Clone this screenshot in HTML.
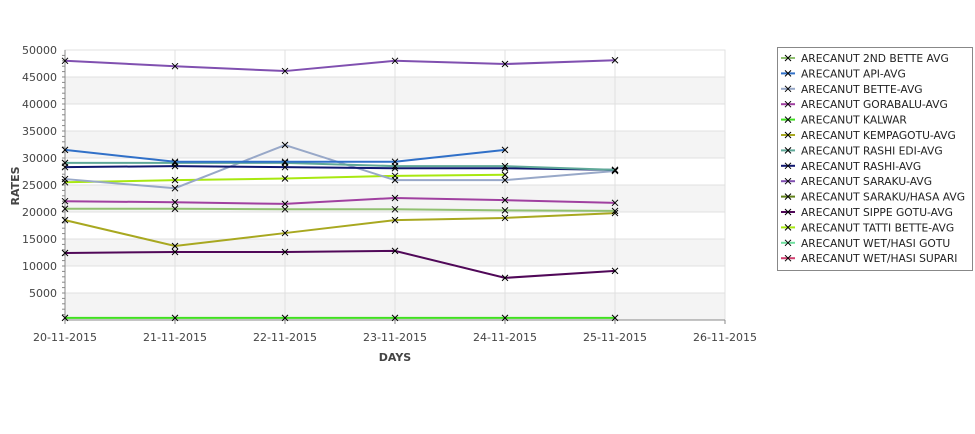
<!DOCTYPE html>
<html><head><meta charset="utf-8"><style>
body{margin:0;background:#fff;width:975px;height:429px;overflow:hidden;font-family:"Liberation Sans","DejaVu Sans",sans-serif}
svg text{font-family:"DejaVu Sans","Liberation Sans",sans-serif}
</style></head><body>
<svg width="975" height="429">
<g id="plot"></g>
</svg>
<script>
const days=["20-11-2015","21-11-2015","22-11-2015","23-11-2015","24-11-2015","25-11-2015","26-11-2015"];
const yTicks=[5000,10000,15000,20000,25000,30000,35000,40000,45000,50000];
const seriesNames=["ARECANUT 2ND BETTE AVG","ARECANUT API-AVG","ARECANUT BETTE-AVG","ARECANUT GORABALU-AVG","ARECANUT KALWAR","ARECANUT KEMPAGOTU-AVG","ARECANUT RASHI EDI-AVG","ARECANUT RASHI-AVG","ARECANUT SARAKU-AVG","ARECANUT SARAKU/HASA AVG","ARECANUT SIPPE GOTU-AVG","ARECANUT TATTI BETTE-AVG","ARECANUT WET/HASI GOTU","ARECANUT WET/HASI SUPARI"];
const seriesColors=["#90c070","#3070c8","#98a8c8","#a040a0","#40e020","#a8a820","#5fa898","#101870","#8050b0","#608018","#500858","#a8e810","#70e0a0","#d04070"];
const s2ndBette=[20600,20600,20500,20500,20300,20200];
const sApi=[31500,29300,29300,29300,31500];
const sBette=[26100,24400,32400,25900,25900,27600];
const sGorabalu=[22000,21800,21500,22600,22200,21700];
const sKalwar=[400,400,400,400,400,400];
const sKempagotu=[18500,13700,16100,18500,18900,19800];
const sRashiEdi=[29100,29100,29100,28500,28500,27800];
const sRashi=[28300,28500,28300,28100,28100,27800];
const sSaraku=[48000,47000,46100,48000,47400,48100];
const sSarakuHasa=[];
const sSippe=[12400,12600,12600,12800,7800,9100];
const sTatti=[25500,25900,26200,26700,26900];
const sWetGotu=[];
const sWetSupari=[];
const allSeries=[s2ndBette,sApi,sBette,sGorabalu,sKalwar,sKempagotu,sRashiEdi,sRashi,sSaraku,sSarakuHasa,sSippe,sTatti,sWetGotu,sWetSupari];
const drawOrder=[4,10,5,0,3,11,2,7,6,1,8,9,12,13];
const X0=65,XW=110,Y0=320,YMAX=50000,YH=270;
const xs=i=>X0+i*XW;
const ys=v=>Y0-v/YMAX*YH;
const NS="http://www.w3.org/2000/svg";
const g=document.getElementById('plot');
function mk(t,a,p){const e=document.createElementNS(NS,t);for(const k in a)e.setAttribute(k,a[k]);(p||g).appendChild(e);return e;}
for(let i=0;i<yTicks.length;i++){
  if(i%2===0){const r=mk('rect',{x:X0,y:ys(yTicks[i]),width:660,height:ys(yTicks[i]-5000)-ys(yTicks[i]),fill:'#f4f4f4'});
  
  }
}
mk('rect',{x:X0,y:ys(YMAX),width:660,height:YH,fill:'none',stroke:'#e4e4e4'});
yTicks.forEach(v=>{mk('line',{x1:X0,x2:725,y1:ys(v),y2:ys(v),stroke:'#e0e0e0'});
  const t=mk('text',{x:57,y:ys(v)+4,'text-anchor':'end','font-size':11,fill:'#444'});t.textContent=v;
  
  });
for(let v=1000;v<YMAX;v+=1000)mk('line',{x1:X0-3,x2:X0,y1:ys(v),y2:ys(v),stroke:'#888'});
days.forEach((d,i)=>{mk('line',{x1:xs(i),x2:xs(i),y1:ys(YMAX),y2:Y0+2,stroke:'#e0e0e0'});
  mk('line',{x1:xs(i),x2:xs(i),y1:Y0,y2:Y0+4,stroke:'#888'});
  const t=mk('text',{x:xs(i),y:341,'text-anchor':'middle','font-size':11,fill:'#444'});t.textContent=d;
  
  });
mk('line',{x1:X0,x2:X0,y1:ys(YMAX),y2:Y0,stroke:'#888'});
mk('line',{x1:X0,x2:725,y1:Y0,y2:Y0,stroke:'#888'});
const xt=mk('text',{x:395,y:361,'text-anchor':'middle','font-size':11,'font-weight':'bold',fill:'#444'});xt.textContent='DAYS';


const yt=mk('text',{x:19,y:186,'text-anchor':'middle','font-size':11,'font-weight':'bold',fill:'#444',transform:'rotate(-90 19 186)'});yt.textContent='RATES';


drawOrder.forEach(si=>{
  const d=allSeries[si];if(!d.length)return;
  const pl=mk('polyline',{points:d.map((v,i)=>xs(i)+','+ys(v)).join(' '),fill:'none',stroke:seriesColors[si],'stroke-width':2});
  
  
  d.forEach((v,i)=>{const m=mk('path',{d:`M${xs(i)-3},${ys(v)-3}L${xs(i)+3},${ys(v)+3}M${xs(i)-3},${ys(v)+3}L${xs(i)+3},${ys(v)-3}`,stroke:'#000','stroke-width':1});
    
    });
});
const lg=mk('g',{});


mk('rect',{x:777.5,y:47.5,width:195,height:223,fill:'#fff',stroke:'#888'},lg);
seriesNames.forEach((n,i)=>{
  const y=58+i*15.4;
  const e=mk('g',{},lg);
  
  
  mk('line',{x1:781,x2:795,y1:y,y2:y,stroke:seriesColors[i],'stroke-width':2},e);
  mk('path',{d:`M785,${y-3}L791,${y+3}M785,${y+3}L791,${y-3}`,stroke:'#000'},e);
  const t=mk('text',{x:801,y:y+4,'font-size':10.7,fill:'#222'},e);t.textContent=n;
});
</script>
</body></html>
